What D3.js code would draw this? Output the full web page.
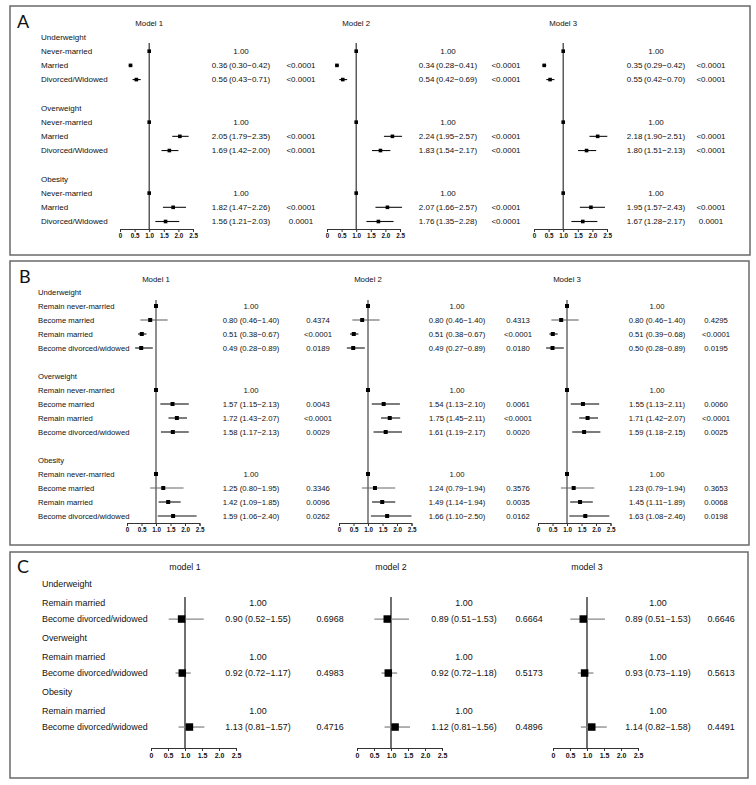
<!DOCTYPE html>
<html><head><meta charset="utf-8">
<script src="https://cdn.jsdelivr.net/npm/d3@7"></script>
<style>
html,body{margin:0;padding:0;background:#fff;}
svg{display:block;font-family:"Liberation Sans",Arial,sans-serif;}
</style></head>
<body>
<svg id="chart" width="756" height="785"></svg>
<script>
// ---------------- DATA ----------------
const groups = ["Underweight", "Overweight", "Obesity"];
const xTicks = [0, 0.5, 1.0, 1.5, 2.0, 2.5];
const xTickLabels = ["0", "0.5", "1.0", "1.5", "2.0", "2.5"];

// Panel A
const aModels = ["Model 1", "Model 2", "Model 3"];
const aRows = ["Never-married", "Married", "Divorced/Widowed"];
const aEst = [
  [1.00, 0.36, 0.56, 1.00, 2.05, 1.69, 1.00, 1.82, 1.56],
  [1.00, 0.34, 0.54, 1.00, 2.24, 1.83, 1.00, 2.07, 1.76],
  [1.00, 0.35, 0.55, 1.00, 2.18, 1.80, 1.00, 1.95, 1.67]];
const aLow = [
  [null, 0.30, 0.43, null, 1.79, 1.42, null, 1.47, 1.21],
  [null, 0.28, 0.42, null, 1.95, 1.54, null, 1.66, 1.35],
  [null, 0.29, 0.42, null, 1.90, 1.51, null, 1.57, 1.28]];
const aHigh = [
  [null, 0.42, 0.71, null, 2.35, 2.00, null, 2.26, 2.03],
  [null, 0.41, 0.69, null, 2.57, 2.17, null, 2.57, 2.28],
  [null, 0.42, 0.70, null, 2.51, 2.13, null, 2.43, 2.17]];
const aP = [
  ["", "<0.0001", "<0.0001", "", "<0.0001", "<0.0001", "", "<0.0001", "0.0001"],
  ["", "<0.0001", "<0.0001", "", "<0.0001", "<0.0001", "", "<0.0001", "<0.0001"],
  ["", "<0.0001", "<0.0001", "", "<0.0001", "<0.0001", "", "<0.0001", "0.0001"]];

// Panel B
const bModels = ["Model 1", "Model 2", "Model 3"];
const bRows = ["Remain never-married", "Become married", "Remain married", "Become divorced/widowed"];
const bEst = [
  [1.00, 0.80, 0.51, 0.49, 1.00, 1.57, 1.72, 1.58, 1.00, 1.25, 1.42, 1.59],
  [1.00, 0.80, 0.51, 0.49, 1.00, 1.54, 1.75, 1.61, 1.00, 1.24, 1.49, 1.66],
  [1.00, 0.80, 0.51, 0.50, 1.00, 1.55, 1.71, 1.59, 1.00, 1.23, 1.45, 1.63]];
const bLow = [
  [null, 0.46, 0.38, 0.28, null, 1.15, 1.43, 1.17, null, 0.80, 1.09, 1.06],
  [null, 0.46, 0.38, 0.27, null, 1.13, 1.45, 1.19, null, 0.79, 1.14, 1.10],
  [null, 0.46, 0.39, 0.28, null, 1.13, 1.42, 1.18, null, 0.79, 1.11, 1.08]];
const bHigh = [
  [null, 1.40, 0.67, 0.89, null, 2.13, 2.07, 2.13, null, 1.95, 1.85, 2.40],
  [null, 1.40, 0.67, 0.89, null, 2.10, 2.11, 2.17, null, 1.94, 1.94, 2.50],
  [null, 1.40, 0.68, 0.89, null, 2.11, 2.07, 2.15, null, 1.94, 1.89, 2.46]];
const bP = [
  ["", "0.4374", "<0.0001", "0.0189", "", "0.0043", "<0.0001", "0.0029", "", "0.3346", "0.0096", "0.0262"],
  ["", "0.4313", "<0.0001", "0.0180", "", "0.0061", "<0.0001", "0.0020", "", "0.3576", "0.0035", "0.0162"],
  ["", "0.4295", "<0.0001", "0.0195", "", "0.0060", "<0.0001", "0.0025", "", "0.3653", "0.0068", "0.0198"]];

// Panel C
const cModels = ["model 1", "model 2", "model 3"];
const cRows = ["Remain married", "Become divorced/widowed"];
const cEst = [
  [1.00, 0.90, 1.00, 0.92, 1.00, 1.13],
  [1.00, 0.89, 1.00, 0.92, 1.00, 1.12],
  [1.00, 0.89, 1.00, 0.93, 1.00, 1.14]];
const cLow = [
  [null, 0.52, null, 0.72, null, 0.81],
  [null, 0.51, null, 0.72, null, 0.81],
  [null, 0.51, null, 0.73, null, 0.82]];
const cHigh = [
  [null, 1.55, null, 1.17, null, 1.57],
  [null, 1.53, null, 1.18, null, 1.56],
  [null, 1.53, null, 1.19, null, 1.58]];
const cP = [
  ["", "0.6968", "", "0.4983", "", "0.4716"],
  ["", "0.6664", "", "0.5173", "", "0.4896"],
  ["", "0.6646", "", "0.5613", "", "0.4491"]];

// ---------------- DRAW ----------------
const svg = d3.select("#chart");
const f2 = d3.format(".2f");
const MINUS = "\u2212";

function drawPanel(cfg) {
  const g = svg.append("g");
  g.append("rect").attr("x", cfg.box[0]).attr("y", cfg.box[1])
    .attr("width", cfg.box[2] - cfg.box[0]).attr("height", cfg.box[3] - cfg.box[1])
    .attr("fill", "none").attr("stroke", "#6a6a6a").attr("stroke-width", 1.5);
  g.append("text").attr("x", cfg.letter[0]).attr("y", cfg.letter[1])
    .attr("font-family", "Lato, 'Open Sans', sans-serif").attr("font-size", 18)
    .attr("fill", "#111").text(cfg.name);

  const y = d3.scaleLinear().domain(cfg.slotDomain).range(cfg.slotRange);
  const nR = cfg.rows.length;

  // row + group labels
  cfg.groups.forEach((gr, gi) => {
    g.append("text").attr("x", cfg.labelX).attr("y", y(cfg.headerSlot(gi)))
      .attr("dy", "0.35em").attr("font-size", cfg.fs).attr("fill", "#111").text(gr);
    cfg.rows.forEach((r, ri) => {
      g.append("text").attr("x", cfg.labelX).attr("y", y(cfg.rowSlot(gi, ri)))
        .attr("dy", "0.35em").attr("font-size", cfg.fs).attr("fill", "#111").text(r);
    });
  });

  cfg.models.forEach((m, mi) => {
    const x = d3.scaleLinear().domain([0, 2.5]).range([cfg.x0[mi], cfg.x0[mi] + cfg.unit * 2.5]);
    // header
    g.append("text").attr("x", x(1)).attr("y", cfg.headerY).attr("dy", "0.35em")
      .attr("text-anchor", "middle").attr("font-size", cfg.hfs).attr("fill", "#111").text(m);
    // axis
    const ax = d3.axisBottom(x).tickValues(xTicks).tickSize(cfg.tick)
      .tickFormat((d, i) => xTickLabels[i]);
    const axg = g.append("g").attr("transform", `translate(0,${cfg.axisY})`).call(ax);
    axg.select(".domain").attr("stroke", "#333").attr("stroke-width", 1);
    axg.selectAll(".tick line").attr("stroke", "#333");
    axg.selectAll(".tick text").attr("font-size", cfg.tfs).attr("fill", "#111")
      .attr("font-family", "'Liberation Sans', Arial, sans-serif").attr("font-weight", "bold")
      .attr("y", cfg.tick + 2);
    // reference line
    g.append("line").attr("x1", x(1)).attr("x2", x(1)).attr("y1", cfg.lineTop).attr("y2", cfg.axisY)
      .attr("stroke", cfg.refColor).attr("stroke-width", 1.2);

    const items = [];
    cfg.groups.forEach((gr, gi) => cfg.rows.forEach((r, ri) => {
      const k = gi * nR + ri;
      items.push({ gi, ri, est: cfg.est[mi][k], lo: cfg.low[mi][k], hi: cfg.high[mi][k], p: cfg.p[mi][k] });
    }));

    items.forEach(d => {
      const yy = y(cfg.rowSlot(d.gi, d.ri));
      if (d.lo != null) {
        const cross = d.lo < 1 && d.hi > 1;
        g.append("line").attr("x1", x(d.lo)).attr("x2", x(d.hi)).attr("y1", yy).attr("y2", yy)
          .attr("stroke", cross ? cfg.crossColor : "#111").attr("stroke-width", cfg.ciw);
      }
      if (d.lo != null || cfg.refBox) {
        g.append("rect").attr("x", x(d.est) - cfg.box_s / 2).attr("y", yy - cfg.box_s / 2)
          .attr("width", cfg.box_s).attr("height", cfg.box_s).attr("fill", "#000");
      }
      const txt = d.lo == null ? f2(d.est)
        : `${f2(d.est)}${cfg.sep}(${f2(d.lo)}${MINUS}${f2(d.hi)})`;
      g.append("text").attr("x", cfg.estX[mi]).attr("y", yy).attr("dy", "0.35em")
        .attr("text-anchor", "middle").attr("font-size", cfg.fs).attr("fill", "#111").text(txt);
      if (d.p) {
        g.append("text").attr("x", cfg.pX[mi]).attr("y", yy).attr("dy", "0.35em")
          .attr("text-anchor", "middle").attr("font-size", cfg.fs).attr("fill", "#111").text(d.p);
      }
    });
  });
}

drawPanel({
  name: "A", box: [10, 6, 750, 255], letter: [17, 28],
  groups, rows: aRows, models: aModels,
  est: aEst, low: aLow, high: aHigh, p: aP,
  slotDomain: [0, 13], slotRange: [37, 221.5],
  headerSlot: gi => gi * 5, rowSlot: (gi, ri) => gi * 5 + 1 + ri,
  labelX: 41, headerY: 23, fs: 8, hfs: 7.8, tfs: 6.3,
  x0: [120, 327, 534], unit: 29.2, tick: 3, axisY: 229, lineTop: 43,
  estX: [241, 448, 656], pX: [301, 506, 711], sep: "\u2009",
  box_s: 3.6, ciw: 1.1, refBox: true, refColor: "#333", crossColor: "#555"
});

drawPanel({
  name: "B", box: [10, 261, 749, 545], letter: [19, 283],
  groups, rows: bRows, models: bModels,
  est: bEst, low: bLow, high: bHigh, p: bP,
  slotDomain: [0, 16], slotRange: [292, 516],
  headerSlot: gi => gi * 6, rowSlot: (gi, ri) => gi * 6 + 1 + ri,
  labelX: 38, headerY: 279, fs: 7.7, hfs: 7.8, tfs: 6.3,
  x0: [127, 339, 538], unit: 29, tick: 3, axisY: 523, lineTop: 300,
  estX: [251, 457, 657], pX: [318, 518, 716], sep: " ",
  box_s: 4, ciw: 1.1, refBox: true, refColor: "#444", crossColor: "#666"
});

drawPanel({
  name: "C", box: [10, 552, 748, 778], letter: [17, 573],
  groups, rows: cRows, models: cModels,
  est: cEst, low: cLow, high: cHigh, p: cP,
  slotDomain: [0, 10], slotRange: [584, 744],
  headerSlot: gi => gi * 3.375, rowSlot: (gi, ri) => gi * 3.375 + 1.19 + ri,
  labelX: 42, headerY: 567, fs: 8.9, hfs: 8.8, tfs: 7,
  x0: [151, 357, 553], unit: 34, tick: 3, axisY: 748, lineTop: 597,
  estX: [258, 464, 658], pX: [330, 529, 721], sep: " ",
  box_s: 7.5, ciw: 1.3, refBox: false, refColor: "#111", crossColor: "#888"
});
</script>
</body></html>
